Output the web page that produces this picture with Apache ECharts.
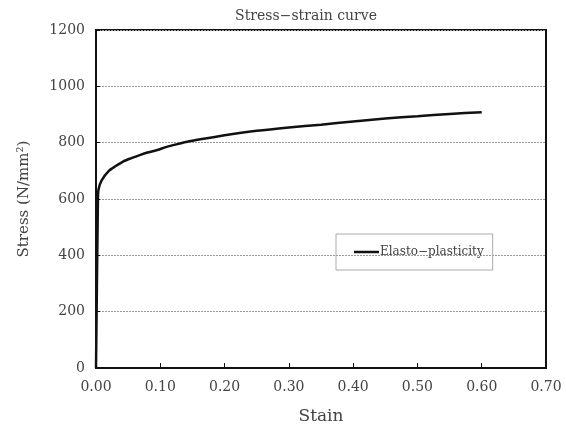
<!DOCTYPE html>
<html>
<head>
<meta charset="utf-8">
<script src="https://cdn.jsdelivr.net/npm/echarts@6/dist/echarts.min.js"></script>
<style>
    html, body { margin: 0; padding: 0; background: #fff; }
    #chart { width: 566px; height: 430px; }
</style>
</head>
<body>
<div id="chart"></div>
<script>
const strain = [0, 0.003, 0.004, 0.009, 0.02, 0.03, 0.042, 0.055, 0.068, 0.08, 0.094,
    0.11, 0.125, 0.145, 0.165, 0.2, 0.25, 0.3, 0.35, 0.4, 0.45, 0.5, 0.55, 0.6];
const stress = [0, 600, 635, 667, 700, 716, 733, 745, 756, 765, 773,
    785, 794, 805, 813, 826, 842, 854, 864, 875, 886, 894, 902, 908];
const seriesName = 'Elasto\u2212plasticity';

const font = 'DejaVu Serif';
const points = strain.map((x, i) => [x, stress[i]]);

const options = {
    animation: false,
    title: {
        text: 'Stress\u2212strain curve',
        left: 301,
        top: 4,
        textAlign: 'center',
        textStyle: { fontFamily: font, fontSize: 14, fontWeight: 'normal', color: '#444' },
    },
    grid: {
        left: 96,
        right: 20,
        top: 30,
        bottom: 61,
        show: true,
        borderColor: '#111',
        borderWidth: 2,
    },
    legend: {
        data: [seriesName],
        left: 336,
        top: 234,
        padding: [12, 9, 12, 18],
        borderColor: '#aaa',
        borderWidth: 1,
        icon: 'rect',
        itemWidth: 25,
        itemHeight: 2.5,
        textStyle: { fontFamily: font, fontSize: 12, color: '#444', padding: [0, 0, 0, -4] },
    },
    xAxis: {
        type: 'value',
        min: 0,
        max: 0.7,
        interval: 0.1,
        name: 'Stain',
        nameLocation: 'middle',
        nameGap: 40,
        nameTextStyle: { fontFamily: font, fontSize: 17, color: '#444' },
        axisLine: { lineStyle: { color: '#111', width: 2 } },
        axisTick: { inside: true, length: 5, lineStyle: { color: '#111' } },
        axisLabel: {
            fontFamily: font,
            fontSize: 14,
            color: '#444',
            margin: 12,
            formatter: v => v.toFixed(2),
        },
        splitLine: { show: false },
    },
    yAxis: {
        type: 'value',
        min: 0,
        max: 1200,
        interval: 200,
        name: 'Stress (N/mm\u00b2)',
        nameLocation: 'middle',
        nameGap: 64,
        nameTextStyle: { fontFamily: font, fontSize: 15, color: '#444' },
        axisLine: { lineStyle: { color: '#111', width: 2 } },
        axisTick: { inside: true, length: 4, lineStyle: { color: '#111' } },
        axisLabel: {
            fontFamily: font,
            fontSize: 14,
            color: '#444',
            margin: 11,
            formatter: v => String(v),
        },
        splitLine: { lineStyle: { color: '#999', width: 1, type: [2, 1] } },
    },
    series: [
        {
            name: seriesName,
            type: 'line',
            data: points,
            showSymbol: false,
            smooth: 0.2,
            color: '#111',
            lineStyle: { color: '#111', width: 2.5 },
        },
    ],
};

const chart = echarts.init(document.getElementById('chart'));
chart.setOption(options);
</script>
</body>
</html>
